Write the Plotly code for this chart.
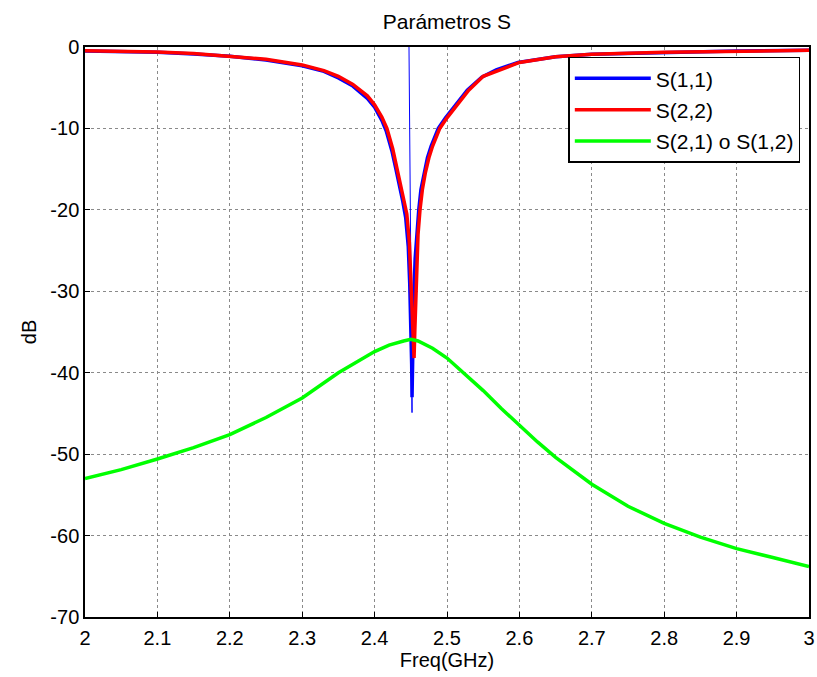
import plotly.graph_objects as go

# ---- data ----
s11_f = [2.00, 2.05, 2.10, 2.15, 2.20, 2.25, 2.30, 2.33, 2.35, 2.37, 2.39, 2.40, 2.41, 2.416,
         2.424, 2.429, 2.434, 2.439, 2.443, 2.4465, 2.4485, 2.4502, 2.4512, 2.4517, 2.4525,
         2.454, 2.456, 2.458, 2.461, 2.464, 2.468, 2.473, 2.478, 2.488, 2.498, 2.518, 2.528,
         2.548, 2.568, 2.598, 2.65, 2.70, 2.80, 2.90, 3.00]
s11_db = [-0.5, -0.55, -0.65, -0.85, -1.15, -1.6, -2.3, -3.0, -3.8, -4.8, -6.3, -7.4, -9.0, -10.3,
          -12.8, -14.8, -16.8, -19.0, -21.0, -24.5, -29.0, -34.0, -39.0, -43.0, -37.0,
          -31.0, -26.0, -23.0, -20.0, -17.5, -15.5, -13.6, -12.2, -10.0, -8.7, -6.4, -5.3,
          -3.7, -2.8, -1.9, -1.2, -0.9, -0.65, -0.5, -0.4]

s11_spike_f = [2.4475, 2.4517, 2.4517]
s11_spike_db = [0.0, -44.9, -43.0]

s22_f = [2.00, 2.05, 2.10, 2.15, 2.20, 2.25, 2.30, 2.33, 2.35, 2.37, 2.39, 2.40, 2.41, 2.417,
         2.425, 2.43, 2.435, 2.44, 2.4445, 2.448, 2.450, 2.452, 2.4535, 2.4545, 2.4555,
         2.457, 2.4585, 2.460, 2.4627, 2.466, 2.47, 2.475, 2.48, 2.49, 2.50, 2.52, 2.53,
         2.55, 2.57, 2.60, 2.65, 2.70, 2.80, 2.90, 3.00]
s22_db = [-0.45, -0.5, -0.6, -0.8, -1.1, -1.5, -2.2, -2.9, -3.6, -4.6, -6.0, -7.1, -8.6, -10.0,
          -12.5, -14.5, -16.5, -18.5, -20.5, -24.0, -28.0, -32.0, -36.0, -38.2, -35.0,
          -30.0, -26.0, -23.0, -20.0, -17.5, -15.5, -13.6, -12.2, -10.0, -8.7, -6.4, -5.3,
          -3.6, -2.9, -1.9, -1.2, -0.9, -0.65, -0.5, -0.4]

s21_f = [2.00, 2.05, 2.10, 2.15, 2.20, 2.25, 2.30, 2.35, 2.40, 2.42, 2.44, 2.45, 2.46, 2.47,
         2.48, 2.50, 2.525, 2.55, 2.575, 2.60, 2.625, 2.65, 2.675, 2.70, 2.75, 2.80, 2.85,
         2.90, 2.95, 3.00]
s21_db = [-53.0, -51.9, -50.6, -49.2, -47.6, -45.5, -43.1, -40.0, -37.4, -36.6, -36.1, -35.9,
          -36.1, -36.5, -37.0, -38.2, -40.2, -42.2, -44.4, -46.5, -48.5, -50.4, -52.1, -53.7,
          -56.4, -58.5, -60.2, -61.6, -62.7, -63.8]

x_ticks = [2.0, 2.1, 2.2, 2.3, 2.4, 2.5, 2.6, 2.7, 2.8, 2.9, 3.0]
x_labels = ["2", "2.1", "2.2", "2.3", "2.4", "2.5", "2.6", "2.7", "2.8", "2.9", "3"]
y_ticks = [0, -10, -20, -30, -40, -50, -60, -70]
y_labels = ["0", "-10", "-20", "-30", "-40", "-50", "-60", "-70"]

names = ["S(1,1)", "S(2,2)", "S(2,1) o S(1,2)"]

FONT = "Liberation Sans, Arial, sans-serif"

fig = go.Figure()
fig.add_trace(go.Scatter(x=s11_f, y=s11_db, mode="lines", name=names[0], legendgroup="a",
                         line=dict(color="#0000FF", width=3.5)))
fig.add_trace(go.Scatter(x=s11_spike_f, y=s11_spike_db, mode="lines", showlegend=False,
                         legendgroup="a", line=dict(color="#0000FF", width=1)))
fig.add_trace(go.Scatter(x=s22_f, y=s22_db, mode="lines", name=names[1], legendgroup="b",
                         line=dict(color="#FF0000", width=3.5)))
fig.add_trace(go.Scatter(x=s21_f, y=s21_db, mode="lines", name=names[2], legendgroup="c",
                         line=dict(color="#00FF00", width=3.5)))

axis_common = dict(
    showline=True, linecolor="black", linewidth=1.5, mirror=True,
    ticks="inside", ticklen=5, tickcolor="black", tickwidth=1,
    showgrid=True, gridcolor="#8a8a8a", griddash="dot", gridwidth=1,
    zeroline=False, automargin=False,
    tickfont=dict(family=FONT, size=20, color="black"),
)

fig.update_layout(
    width=817, height=677,
    margin=dict(l=85, r=8, t=47, b=60),
    paper_bgcolor="white", plot_bgcolor="white",
    title=dict(text="Parámetros S", x=0.547, xanchor="center", y=0.968, yanchor="middle",
               font=dict(family=FONT, size=21, color="black")),
    xaxis=dict(range=[2, 3], tickvals=x_ticks, ticktext=x_labels, ticklabelstandoff=2,
               title=dict(text="Freq(GHz)", font=dict(family=FONT, size=20, color="black"),
                          standoff=2),
               **axis_common),
    yaxis=dict(range=[-70, 0], tickvals=y_ticks, ticktext=y_labels,
               title=dict(text="dB", font=dict(family=FONT, size=20, color="black"),
                          standoff=8),
               **axis_common),
    legend=dict(x=0.988, y=0.983, xanchor="right", yanchor="top",
                bgcolor="white", bordercolor="black", borderwidth=1.5,
                font=dict(family=FONT, size=21, color="black"),
                itemwidth=76, tracegroupgap=1),
    showlegend=True,
)

fig.write_html("out.html", config={"displayModeBar": False},
               post_script="document.body.style.margin='0';")
